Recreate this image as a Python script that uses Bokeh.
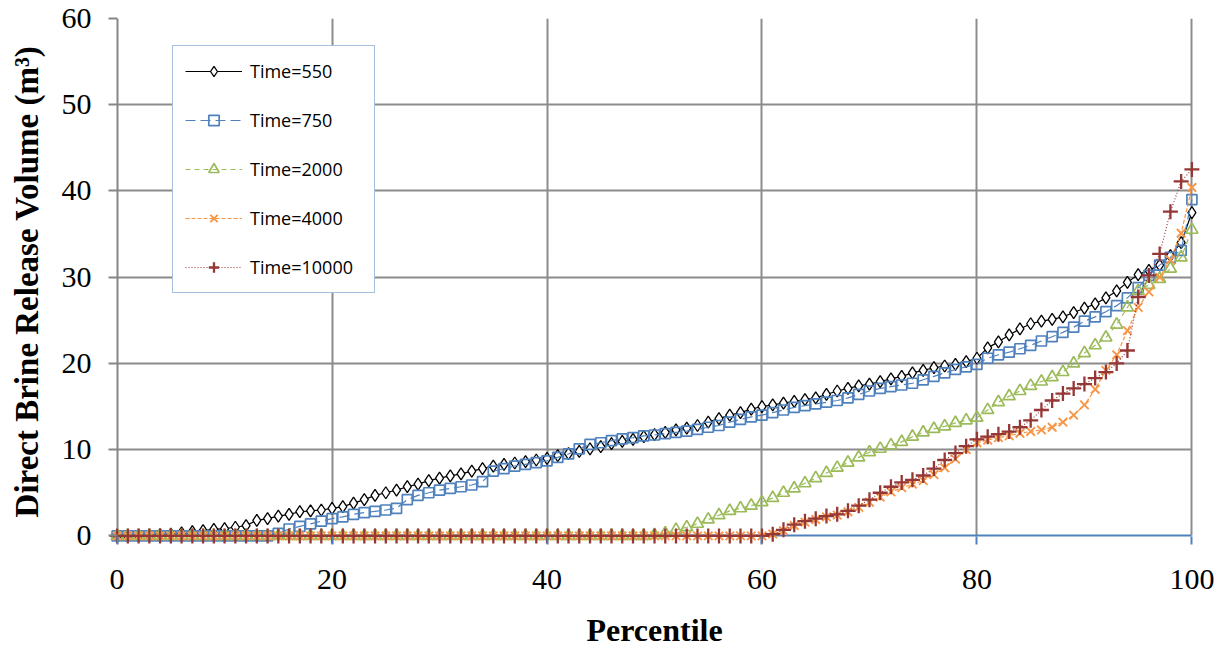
from bokeh.plotting import figure
from bokeh.models import (Range1d, Legend, LegendItem, FixedTicker, ColumnDataSource,
                          Grid)
from bokeh.embed import file_html
from bokeh.resources import INLINE

# ---------------- data ----------------
percentile = [
    0, 1, 2, 3, 4, 5, 6, 7, 8, 9,
    10, 11, 12, 13, 14, 15, 16, 17, 18, 19,
    20, 21, 22, 23, 24, 25, 26, 27, 28, 29,
    30, 31, 32, 33, 34, 35, 36, 37, 38, 39,
    40, 41, 42, 43, 44, 45, 46, 47, 48, 49,
    50, 51, 52, 53, 54, 55, 56, 57, 58, 59,
    60, 61, 62, 63, 64, 65, 66, 67, 68, 69,
    70, 71, 72, 73, 74, 75, 76, 77, 78, 79,
    80, 81, 82, 83, 84, 85, 86, 87, 88, 89,
    90, 91, 92, 93, 94, 95, 96, 97, 98, 99,
    100]

time_550 = [
    0, 0, 0.05, 0.1, 0.15, 0.2, 0.35, 0.5, 0.6, 0.75,
    0.85, 1.0, 1.2, 1.8, 2.0, 2.3, 2.5, 2.8, 2.9, 3.0,
    3.2, 3.4, 3.8, 4.2, 4.7, 5.0, 5.3, 5.7, 6.0, 6.4,
    6.7, 6.95, 7.2, 7.5, 7.8, 8.1, 8.3, 8.45, 8.6, 8.8,
    9.0, 9.3, 9.55, 9.8, 10.1, 10.35, 10.7, 10.95, 11.2, 11.5,
    11.75, 12.0, 12.3, 12.5, 12.8, 13.2, 13.6, 14.0, 14.3, 14.7,
    15.0, 15.2, 15.4, 15.6, 15.8, 16.0, 16.4, 16.8, 17.1, 17.4,
    17.6, 17.9, 18.2, 18.5, 18.9, 19.2, 19.5, 19.7, 19.9, 20.2,
    20.6, 21.8, 22.5, 23.3, 24.0, 24.6, 24.9, 25.1, 25.4, 25.9,
    26.4, 26.9, 27.6, 28.4, 29.4, 30.3, 30.8, 31.4, 32.5, 34.0,
    37.5]

time_750 = [
    0, 0, 0, 0, 0, 0, 0, 0, 0, 0,
    0, 0, 0, 0, 0, 0.3, 0.8, 1.1, 1.4, 1.7,
    2.0, 2.2, 2.5, 2.7, 2.85, 3.0, 3.2, 4.2, 4.7, 5.0,
    5.3, 5.5, 5.7, 5.9, 6.3, 7.5, 7.8, 8.1, 8.3, 8.5,
    8.7, 9.1, 9.5, 10.1, 10.6, 10.8, 11.05, 11.25, 11.4, 11.6,
    11.7, 11.85, 12.0, 12.15, 12.35, 12.6, 12.8, 13.2, 13.5, 13.8,
    14.0, 14.3, 14.6, 14.9, 15.1, 15.3, 15.5, 15.7, 16.0, 16.4,
    16.8, 17.1, 17.3, 17.5, 17.7, 18.1, 18.5, 18.9, 19.3, 19.6,
    19.9, 20.6, 21.0, 21.3, 21.7, 22.1, 22.6, 23.1, 23.6, 24.2,
    24.9, 25.4, 26.0, 26.7, 27.6, 28.8, 30.2, 31.4, 32.3, 33.1,
    39.0]

time_2000 = [
    0, 0, 0, 0, 0, 0, 0, 0, 0, 0,
    0, 0, 0, 0, 0, 0, 0, 0, 0, 0,
    0, 0, 0, 0, 0, 0, 0, 0, 0, 0,
    0, 0, 0, 0, 0, 0, 0, 0, 0, 0,
    0, 0, 0, 0, 0, 0, 0, 0, 0, 0,
    0.1, 0.3, 0.7, 1.0, 1.4, 1.9, 2.4, 2.9, 3.2, 3.5,
    3.9, 4.4, 5.0, 5.5, 6.1, 6.7, 7.3, 7.9, 8.5, 9.1,
    9.7, 10.1, 10.5, 10.9, 11.5, 12.0, 12.4, 12.7, 13.1, 13.4,
    13.7, 14.6, 15.5, 16.2, 16.8, 17.4, 17.9, 18.4, 19.0, 20.0,
    21.2, 22.1, 23.0, 24.5, 26.5, 28.4, 29.1, 29.8, 31.0, 32.3,
    35.5]

time_4000 = [
    0, 0, 0, 0, 0, 0, 0, 0, 0, 0,
    0, 0, 0, 0, 0, 0, 0, 0, 0, 0,
    0, 0, 0, 0, 0, 0, 0, 0, 0, 0,
    0, 0, 0, 0, 0, 0, 0, 0, 0, 0,
    0, 0, 0, 0, 0, 0, 0, 0, 0, 0,
    0, 0, 0, 0, 0, 0, 0, 0, 0, 0,
    0, 0.2, 0.6, 1.2, 1.6, 1.9, 2.2, 2.4, 2.8, 3.3,
    3.9, 4.5, 5.1, 5.6, 6.0, 6.4, 7.1, 7.9, 8.9, 10.0,
    10.8, 11.1, 11.4, 11.6, 11.9, 12.1, 12.3, 12.6, 13.2, 14.0,
    15.2, 17.0, 19.2, 21.0, 23.8, 26.5, 28.3, 30.0, 32.0, 35.1,
    40.4]

time_10000 = [
    0, 0, 0, 0, 0, 0, 0, 0, 0, 0,
    0, 0, 0, 0, 0, 0, 0, 0, 0, 0,
    0, 0, 0, 0, 0, 0, 0, 0, 0, 0,
    0, 0, 0, 0, 0, 0, 0, 0, 0, 0,
    0, 0, 0, 0, 0, 0, 0, 0, 0, 0,
    0, 0, 0, 0, 0, 0, 0, 0, 0, 0,
    0, 0.2, 0.7, 1.3, 1.7, 2.0, 2.3, 2.5, 2.9, 3.5,
    4.2, 5.0, 5.7, 6.2, 6.5, 7.0, 7.8, 8.8, 9.6, 10.4,
    11.2, 11.5, 11.8, 12.1, 12.6, 13.4, 14.6, 15.7, 16.5, 17.1,
    17.6, 18.3, 19.0, 20.0, 21.5, 27.7, 30.2, 32.7, 37.6, 41.1,
    42.5]

series_labels = ["Time=550", "Time=750", "Time=2000", "Time=4000", "Time=10000"]
x_ticks = [0, 20, 40, 60, 80, 100]
y_ticks = [0, 10, 20, 30, 40, 50, 60]
x_title = "Percentile"
y_title = "Direct Brine Release Volume (m³)"

# ---------------- figure ----------------
p = figure(width=1225, height=652, output_backend="svg", toolbar_location=None,
           x_range=Range1d(-0.8, 100.8), y_range=Range1d(-1.0, 60),
           min_border_left=108, min_border_right=25, min_border_top=18,
           min_border_bottom=108)
p.outline_line_color = None
p.background_fill_color = "white"
p.border_fill_color = "white"

src = ColumnDataSource(dict(p=percentile, a=time_550, b=time_750, c=time_2000,
                            d=time_4000, e=time_10000))

styles = [
    ("a", "black", "solid", "diamond", 12, "white", 1.3),
    ("b", "#4f81bd", "10 5", "square", 10, None, 1.7),
    ("c", "#9bbb59", "5 4", "triangle", 12, None, 1.7),
    ("d", "#f79646", "4 2", "x", 12, None, 1.9),
    ("e", "#953735", "1 2", "cross", 15, None, 2.3),
]
items = []
for (col, color, dash, marker, size, fill, mlw), label in zip(styles, series_labels):
    lr = p.line("p", col, source=src, line_color=color, line_width=1.2, line_dash=dash)
    sr = p.scatter("p", col, source=src, marker=marker, size=size,
                   line_color=color, line_width=mlw,
                   fill_color=fill if fill else None)
    items.append(LegendItem(label=label, renderers=[lr, sr]))

# axes (axis lines drawn as grid lines at 0 so they sit at the data zero)
for ax in [p.xaxis[0], p.yaxis[0]]:
    ax.major_label_text_font = "Liberation Serif"
    ax.major_label_text_font_size = "30px"
    ax.major_label_text_color = "black"
    ax.axis_label_text_font = "Liberation Serif"
    ax.axis_label_text_font_style = "bold"
    ax.axis_label_text_color = "black"
    ax.minor_tick_line_color = None
    ax.axis_line_color = None
    ax.major_tick_out = 0
    ax.major_tick_line_width = 2

p.xaxis.ticker = FixedTicker(ticks=x_ticks)
p.yaxis.ticker = FixedTicker(ticks=y_ticks)
p.xaxis.axis_label = x_title
p.yaxis.axis_label = y_title
p.xaxis.axis_label_text_font_size = "32px"
p.yaxis.axis_label_text_font_size = "33px"

p.xaxis.major_tick_line_color = "#4f81bd"
p.xaxis.major_tick_in = 8
p.xaxis.major_label_standoff = 25
p.xaxis.axis_label_standoff = 20

p.yaxis.major_tick_line_color = "#868686"
p.yaxis.major_tick_in = 9
p.yaxis.major_label_standoff = 17
p.yaxis.axis_label_standoff = 14

# grid
has_cb = "cross_bounds" in Grid.properties()
p.xgrid.ticker = FixedTicker(ticks=x_ticks[1:])
p.ygrid.ticker = FixedTicker(ticks=y_ticks[1:])
for g in [p.xgrid[0], p.ygrid[0]]:
    g.grid_line_color = "#8c8c8c"
    g.grid_line_width = 2
left_line = Grid(dimension=0, ticker=FixedTicker(ticks=[0]),
                 grid_line_color="#868686", grid_line_width=2)
base_line = Grid(dimension=1, ticker=FixedTicker(ticks=[0]),
                 grid_line_color="#4f81bd", grid_line_width=2)
p.add_layout(left_line)
p.add_layout(base_line)
if has_cb:
    p.xgrid.cross_bounds = (0, 60)
    p.ygrid.cross_bounds = (0, 100)
    left_line.cross_bounds = (0, 60)
    base_line.cross_bounds = (0, 100)

legend = Legend(items=items, location=(64, 251), orientation="vertical",
                border_line_color="#4f81bd", border_line_width=1.5,
                background_fill_color="white", background_fill_alpha=1.0,
                padding=12, spacing=23, label_height=26, glyph_height=26,
                glyph_width=57, label_standoff=8, label_width=112, margin=0,
                label_text_font="Open Sans", label_text_font_size="18px",
                label_text_color="black")
p.add_layout(legend)

open("out.html", "w").write(file_html(p, INLINE))
